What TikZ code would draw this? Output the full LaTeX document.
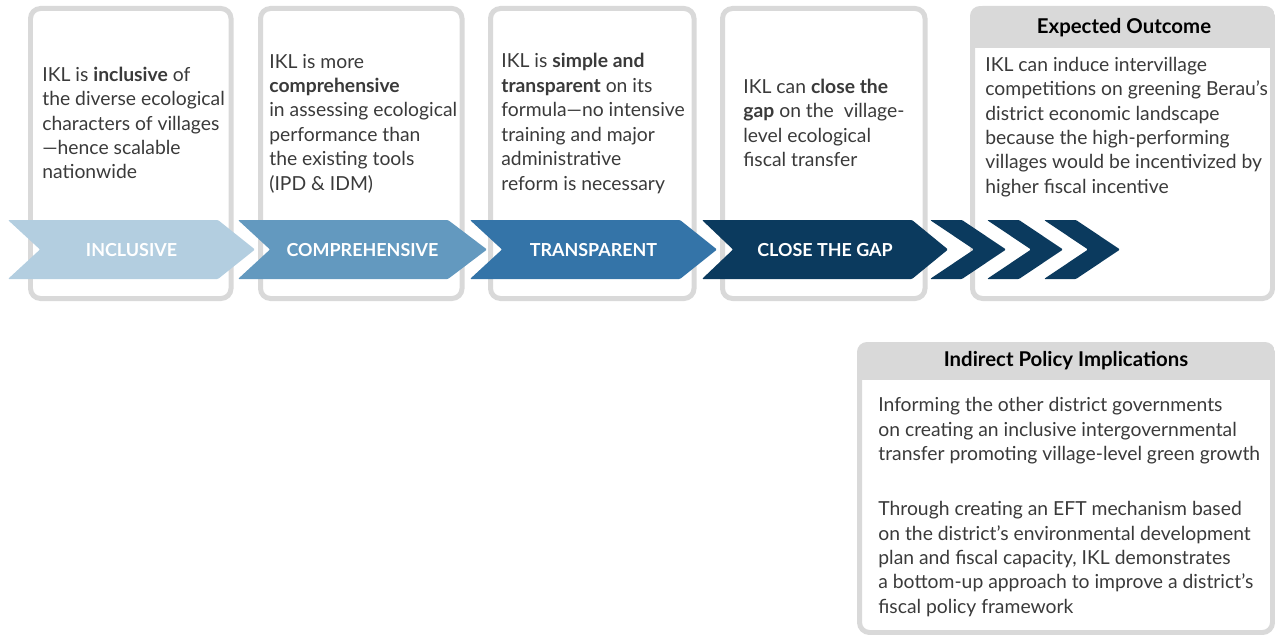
\documentclass[tikz,border=0pt]{standalone}
\usepackage{fontspec}
\setmainfont{Lato}
\definecolor{framegray}{HTML}{D9D9D9}
\definecolor{bodytext}{HTML}{3A3A3A}
\definecolor{stepA}{HTML}{B3CEE0}
\definecolor{stepB}{HTML}{6399BF}
\definecolor{stepC}{HTML}{3474A8}
\definecolor{stepD}{HTML}{0B3A5E}
\begin{document}
\begin{tikzpicture}[x=0.02cm, y=-0.02cm,
    panel/.style ={draw=framegray, line width=0.1cm, rounded corners=0.2cm},
    bodynote/.style ={inner sep=0pt, anchor=west, align=left, text=bodytext,
      font=\fontsize{11}{13.9}\selectfont},
    headnote/.style ={inner sep=0pt, text=black, font=\fontsize{11.6}{14}\selectfont\bfseries},
    steplabel/.style ={inner sep=0pt, text=white, font=\fontsize{10.2}{13}\selectfont\bfseries},
    chevron/.style ={rounded corners=0.02cm}]
   \useasboundingbox (0,0) rectangle (1275,635);
   % four step panels
   \draw[panel] (30.5,8.5) rectangle (231,298.5);
   \draw[panel] (260.5,8.5) rectangle (462,298.5);
   \draw[panel] (490.5,8.5) rectangle (694,298.5);
   \draw[panel] (722.5,8.5) rectangle (925,298.5);
   \node[bodynote] (T1) at (42,123) {IKL is \textbf{inclusive} of\\the diverse ecological\\characters of villages\\---hence scalable\\nationwide};
   \node[bodynote] (T2) at (269,123.5) {IKL is more\\\textbf{comprehensive}\\in assessing ecological\\performance than\\the existing tools\\(IPD \& IDM)};
   \node[bodynote] (T3) at (501,123.5) {IKL is \textbf{simple and}\\\textbf{transparent} on its\\formula---no intensive\\training and major\\administrative\\reform is necessary};
   \node[bodynote] (T4) at (743,123) {IKL can \textbf{close the}\\\textbf{gap} on the~ village-\\level ecological\\fiscal transfer};
   % expected outcome
   \begin{scope}
     \clip[rounded corners=0.2cm] (970,6) rectangle (1275,301);
     \fill[framegray] (970,6) rectangle (1275,48);
   \end{scope}
   \draw[panel] (972.5,8.5) rectangle (1272.5,298.5);
   \node[headnote] (H1) at (1124,28) {Expected Outcome};
   \node[bodynote] (T5) at (985,127) {IKL can induce intervillage\\competitions on greening Berau’s\\district economic landscape\\because the high-performing\\villages would be incentivized by\\higher fiscal incentive};
   % indirect implications
   \begin{scope}
     \clip[rounded corners=0.2cm] (857,342) rectangle (1275,635);
     \fill[framegray] (857,342) rectangle (1275,380);
   \end{scope}
   \draw[panel] (859.5,344.5) rectangle (1272.5,632.5);
   \node[headnote] (H2) at (1066,361) {Indirect Policy Implications};
   \node[bodynote] (T6) at (878,431) {Informing the other district governments\\on creating an inclusive intergovernmental\\transfer promoting village-level green growth};
   \node[bodynote] (T7) at (878,559) {Through creating an EFT mechanism based\\on the district’s environmental development\\plan and fiscal capacity, IKL demonstrates\\a bottom-up approach to improve a district’s\\fiscal policy framework};
   % chevrons
   \fill[chevron, stepA] (8,220) -- (218,220) -- (255,249.5) -- (218,279) -- (8,279) -- (40,249.5) -- cycle;
   \fill[chevron, stepB] (238,220) -- (448,220) -- (487,249.5) -- (448,279) -- (238,279) -- (270,249.5) -- cycle;
   \fill[chevron, stepC] (470,220) -- (680,220) -- (717,249.5) -- (680,279) -- (470,279) -- (502,249.5) -- cycle;
   \fill[chevron, stepD] (702,220) -- (912,220) -- (948,249.5) -- (912,279) -- (702,279) -- (733,249.5) -- cycle;
   \fill[chevron, stepD] (930,220) -- (962,220) -- (1006,249.5) -- (962,279) -- (930,279) -- (974,249.5) -- cycle;
   \fill[chevron, stepD] (987,220) -- (1019,220) -- (1063,249.5) -- (1019,279) -- (987,279) -- (1031,249.5) -- cycle;
   \fill[chevron, stepD] (1044,220) -- (1076,220) -- (1120,249.5) -- (1076,279) -- (1044,279) -- (1088,249.5) -- cycle;
   \node[steplabel] (S1) at (131.5,250) {INCLUSIVE};
   \node[steplabel] (S2) at (362.5,250) {COMPREHENSIVE};
   \node[steplabel] (S3) at (593.5,250) {TRANSPARENT};
   \node[steplabel] (S4) at (825,250) {CLOSE THE GAP};
\end{tikzpicture}
\end{document}
